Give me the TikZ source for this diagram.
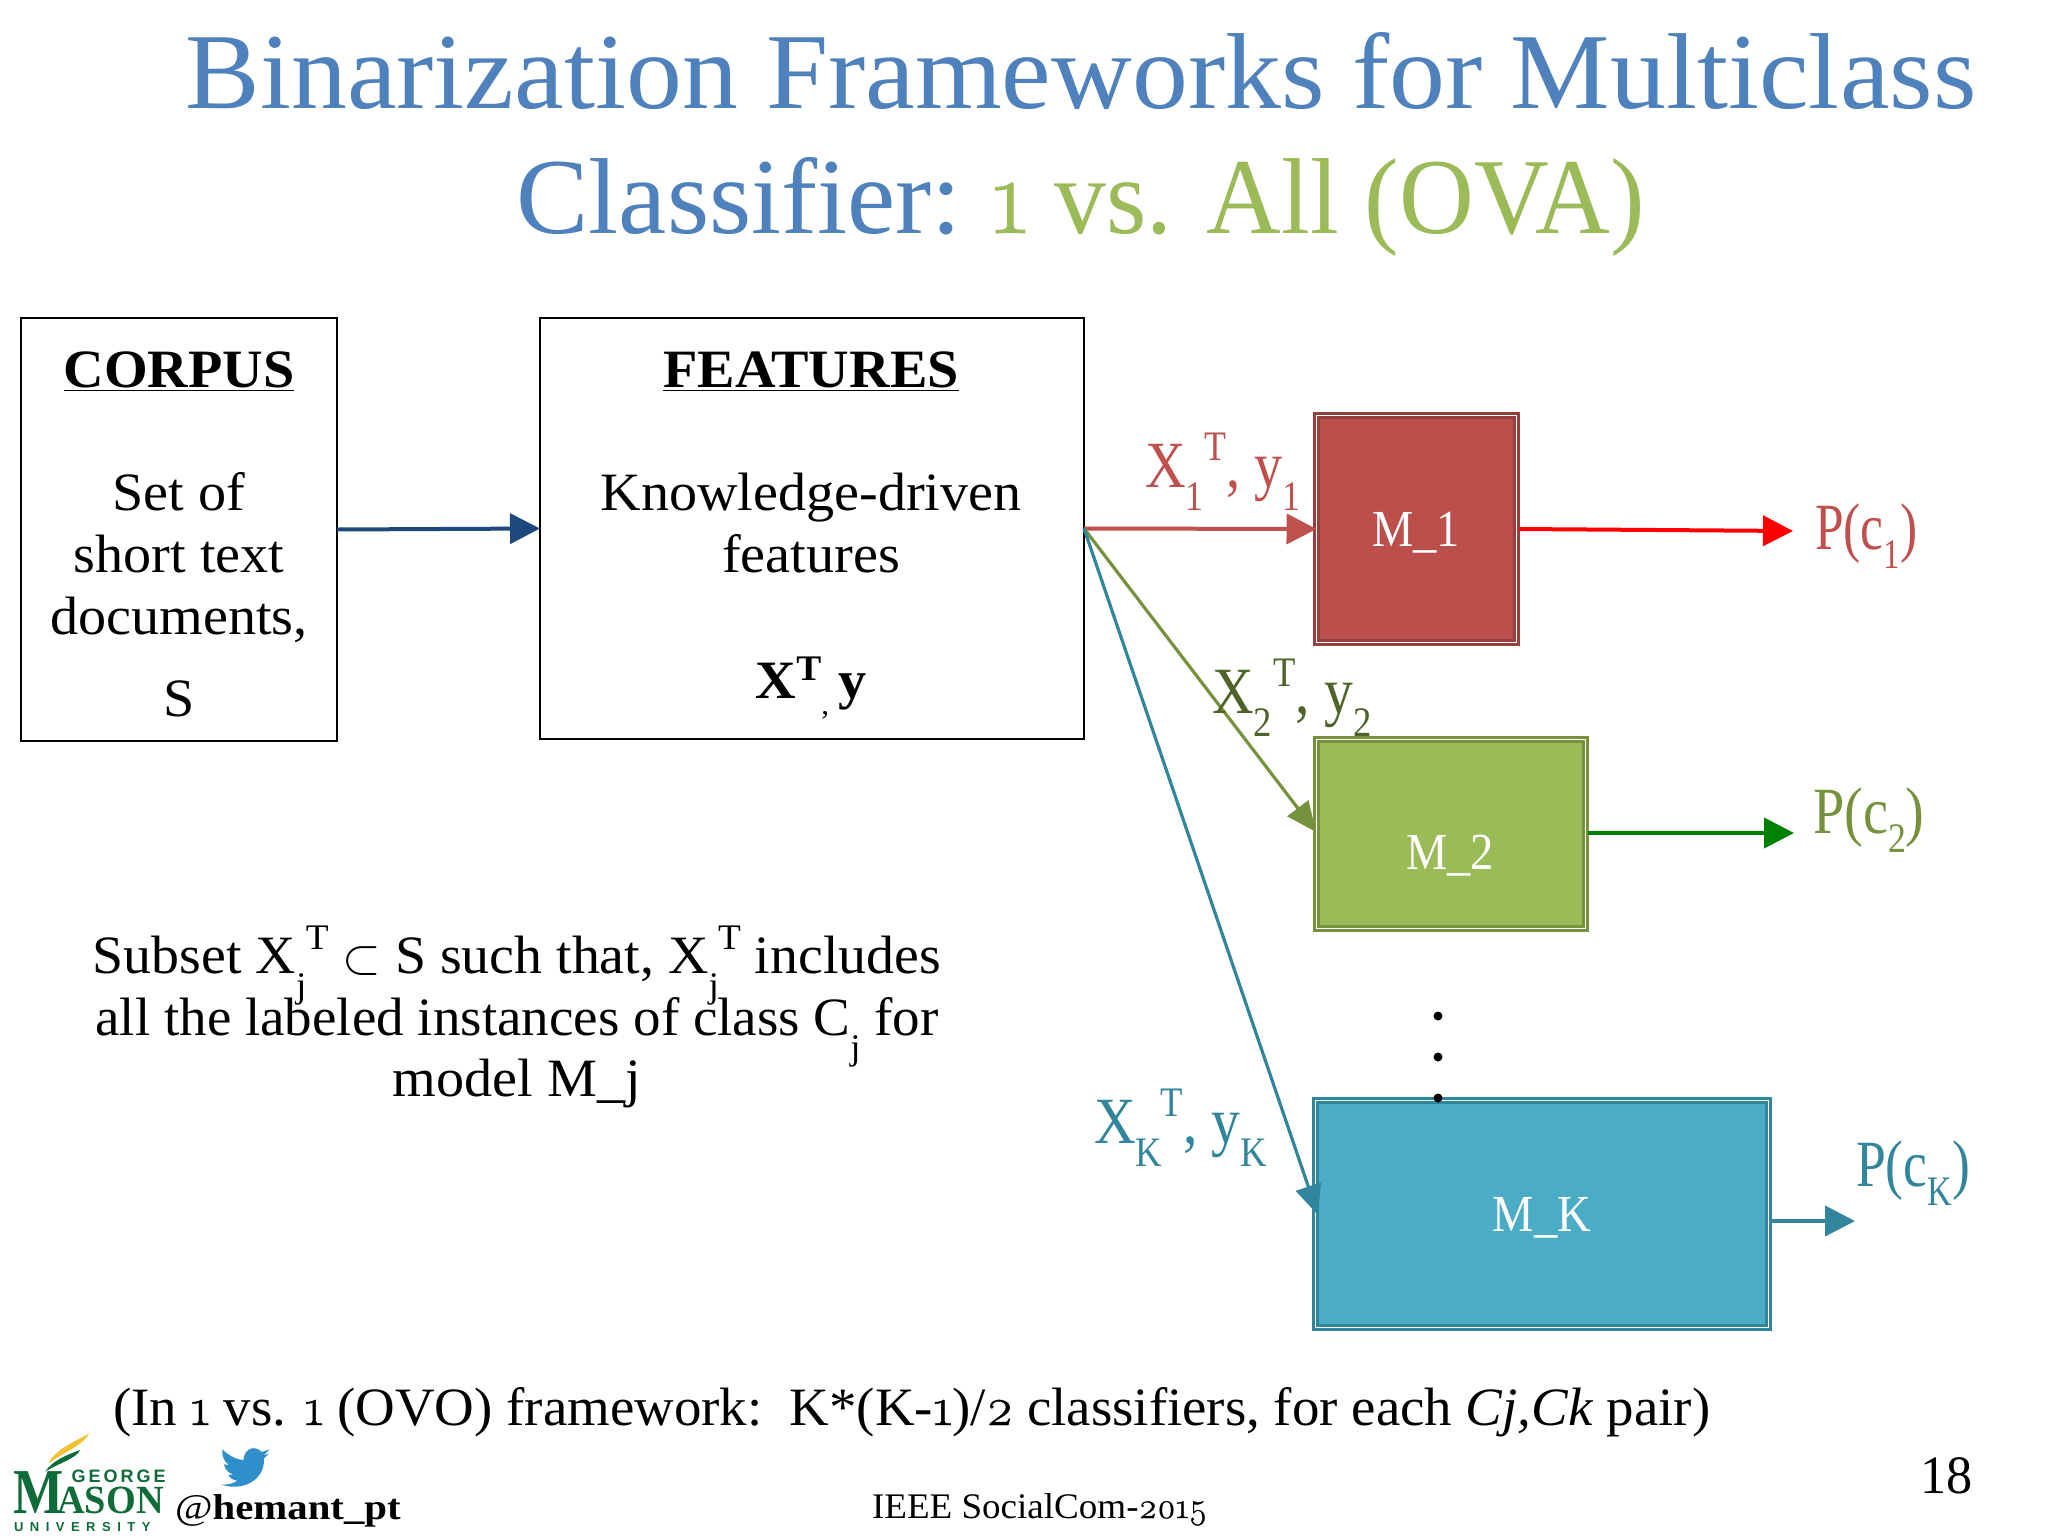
\documentclass[tikz,border=0pt]{standalone}
\usepackage{fontspec}
\setmainfont{Liberation Serif}[FakeStretch=1.04]
\newfontfamily\oldfig{Latin Modern Roman}[Numbers=OldStyle,FakeBold=0.8]
\newfontfamily\gmsans{Liberation Sans}
\usetikzlibrary{arrows.meta}
\definecolor{ttlblue}{HTML}{4F81BD}
\definecolor{ttlgreen}{HTML}{9BBB59}
\definecolor{cred}{HTML}{C0504D}
\definecolor{mred}{HTML}{BC4F4C}
\definecolor{dgreen}{HTML}{4F6228}
\definecolor{ogreen}{HTML}{76923C}
\definecolor{cteal}{HTML}{31859C}
\definecolor{mteal}{HTML}{4BACC6}
\definecolor{navyarrow}{HTML}{1F497D}
\definecolor{gmgreen}{HTML}{0F6B38}
\definecolor{gmgold}{HTML}{F2C230}
\definecolor{birdblue}{HTML}{2F8FCB}
\newcommand{\fsz}[1]{\fontsize{#1}{#1}\selectfont}
\newcommand{\hs}[2]{\scalebox{#1}[1]{#2}}
\newcommand{\subsup}[4]{\rlap{\raisebox{-.36em}{\fontsize{#1}{#1}\selectfont #2}}\hspace{#4}\raisebox{.40em}{\fontsize{#1}{#1}\selectfont #3}}
\newcommand{\subsupj}[3]{\rlap{\raisebox{-.45em}{\fontsize{#1}{#1}\selectfont #2}}\hspace{.18em}\raisebox{.44em}{\fontsize{#1}{#1}\selectfont #3}}
\tikzset{
  x=0.5pt,y=-0.5pt,
  txt/.style={anchor=base,inner sep=0pt,outer sep=0pt,align=center},
  plainbox/.style={draw=black,line width=0.8pt,fill=white,inner sep=0pt,outer sep=0pt,anchor=north west},
  model/.style={inner sep=0pt,outer sep=0pt,anchor=north west,line width=1.2pt,double distance=0.8pt,double=white,text=white},
  arr/.style={-{Triangle[length=15pt,width=15pt]},line width=2pt},
  thinarr/.style={-{Triangle[length=15pt,width=13pt]},line width=1.6pt},
  vdot/.style={circle,fill=black,inner sep=0pt,minimum size=4.5pt}
}
\begin{document}
\begin{tikzpicture}
\useasboundingbox (0,0) rectangle (2048,1536);
\fill[white] (0,0) rectangle (2048,1536);
% title
\node[txt,text=ttlblue] (t1) at (1081,109) {\fsz{54}\hs{.995}{Binarization Frameworks for Multiclass}};
\node[txt,text=ttlblue,anchor=base east] (t2a) at (962,233) {\fsz{54}\hs{.965}{Classifier:}};
\node[txt,text=ttlgreen,anchor=base west] (t2b) at (992,233) {\fsz{54}\hs{.922}{{\oldfig 1} vs. All (OVA)}};
% boxes
\node[plainbox,minimum width=158pt,minimum height=211.5pt] (corpus) at (21,318) {};
\node[plainbox,minimum width=272pt,minimum height=210.5pt] (features) at (540,318) {};
\node[txt] (c1) at (179,387) {\fsz{27}\textbf{\underline{CORPUS}}};
\node[txt] (c2) at (179,510) {\fsz{27}Set of};
\node[txt] (c3) at (179,572) {\fsz{27}short text};
\node[txt] (c4) at (179,634) {\fsz{27}documents,};
\node[txt] (c5) at (179,716) {\fsz{27}S};
\node[txt] (f1) at (811,387) {\fsz{27}\textbf{\underline{FEATURES}}};
\node[txt] (f2) at (811,510) {\fsz{27}Knowledge-driven};
\node[txt] (f3) at (811,572) {\fsz{27}features};
\node[txt] (f4) at (811,698) {\fsz{27}\textbf{X\raisebox{.32em}{\fsz{18}T}}\raisebox{-.3em}{\fsz{15},}\textbf{\,y}};
% models
\node[model,draw=mred!80!black,fill=mred,minimum width=100pt,minimum height=113.5pt] (m1) at (1316.5,415.5) {};
\node[model,draw=ogreen,fill=ttlgreen,minimum width=134.5pt,minimum height=94.5pt] (m2) at (1316.5,739.5) {};
\node[model,draw=cteal,fill=mteal,minimum width=226.5pt,minimum height=113.5pt] (mk) at (1315.5,1100.5) {};
\node[txt,text=white,anchor=center] (m1t) at (1416,533) {\fsz{26}\hs{.86}{M\_1}};
\node[txt,text=white,anchor=center] (m2t) at (1450,856) {\fsz{26}\hs{.86}{M\_2}};
\node[txt,text=white,anchor=center] (mkt) at (1542,1218) {\fsz{26}\hs{.86}{M\_K}};
% output end points
\coordinate (p1) at (1793,531);
\coordinate (p2) at (1794,833);
\coordinate (pk) at (1855,1221);
\coordinate (m2in) at (1316,832);
\coordinate (mkin) at (1318,1215);
\coordinate (m1out) at (1519,529);
\coordinate (m2out) at (1588,833);
\coordinate (mkout) at (1771,1221);
% connectors
\draw[arr,navyarrow] (corpus.east) -- (features.west);
\draw[arr,cred] (features.east) -- (m1.west);
\draw[thinarr,ogreen] (features.east) -- (m2in);
\draw[thinarr,cteal] (features.east) -- (mkin);
\draw[arr,red] (m1out) -- (p1);
\draw[arr,green!50!black] (m2out) -- (p2);
\draw[arr,cteal] (mkout) -- (pk);
% arrow labels
\node[txt,anchor=base west,text=cred] (l1) at (1145,487) {\fsz{33}\hs{.82}{X\subsup{21}{1}{T}{.35em}, y\raisebox{-.36em}{\fsz{21}1}}};
\node[txt,anchor=base west,text=dgreen] (l2) at (1212,713) {\fsz{33}\hs{.84}{X\subsup{21}{2}{T}{.35em}, y\raisebox{-.36em}{\fsz{21}2}}};
\node[txt,anchor=base west,text=cteal] (lk) at (1094,1143) {\fsz{33}\hs{.84}{X\subsup{21}{K}{T}{.45em}, y\raisebox{-.36em}{\fsz{21}K}}};
\node[txt,anchor=base west,text=cred] (o1) at (1815,549) {\fsz{33}\hs{.75}{P(c\raisebox{-.3em}{\fsz{21}1})}};
\node[txt,anchor=base west,text=ogreen] (o2) at (1813,833) {\fsz{33}\hs{.82}{P(c\raisebox{-.3em}{\fsz{21}2})}};
\node[txt,anchor=base west,text=cteal] (ok) at (1856,1186) {\fsz{33}\hs{.78}{P(c\raisebox{-.3em}{\fsz{21}K})}};
% dots
\node[vdot] (d1) at (1438,1016) {};
\node[vdot] (d2) at (1438,1057) {};
\node[vdot] (d3) at (1438,1098) {};
% description
\node[txt] (s1) at (517,973) {\fsz{27}\hs{.995}{Subset X\subsupj{18}{j}{T} $\subset$ S such that, X\subsupj{18}{j}{T} includes}};
\node[txt] (s2) at (517,1035) {\fsz{27}\hs{.98}{all the labeled instances of class C\raisebox{-.45em}{\fsz{18}j} for}};
\node[txt] (s3) at (517,1096) {\fsz{27}model M\_j};
\node[txt,anchor=base west] (ovo) at (113,1425) {\fsz{27}\hs{.977}{(In {\oldfig 1} vs. {\oldfig 1} (OVO) framework:\ \ K*(K-{\oldfig 1})/{\oldfig 2} classifiers, for each \textit{Cj,Ck} pair)}};
\node[txt,anchor=base west] (hand) at (175,1519) {\fsz{18}\hs{1.09}{@\textbf{hemant\_pt}}};
\node[txt,anchor=base west] (conf) at (872,1518) {\fsz{18}\hs{.99}{IEEE SocialCom-{\oldfig 2015}}};
\node[txt,anchor=base west] (pg) at (1920,1493) {\fsz{27}\hs{.93}{18}};
% logo
\begin{scope}[shift={(0,1380)},x=0.16667pt,y=-0.16667pt]
\fill[gmgold] (145,250) .. controls (170,205) and (225,185) .. (268,160) .. controls (250,195) and (195,215) .. (145,250) -- cycle;
\fill[gmgreen] (135,275) .. controls (160,240) and (200,225) .. (240,210) .. controls (230,235) and (175,250) .. (135,275) -- cycle;
\node[txt,anchor=base west,text=gmgreen] (gm1) at (40,400) {\fsz{32}\hs{.8}{\textbf{M}}};
\node[txt,anchor=base west,text=gmgreen] (gm2) at (172,400) {\fsz{20}\hs{.92}{\textbf{ASON}}};
\node[txt,anchor=base west,text=gmgreen] (gm3) at (215,308) {\gmsans\fontsize{9}{9}\selectfont\textbf{G\,E\,O\,R\,G\,E}};
\node[txt,anchor=base west,text=gmgreen] (gm4) at (42,453) {\gmsans\fontsize{6.5}{6.5}\selectfont\textbf{U\hspace{.5em}N\hspace{.5em}I\hspace{.5em}V\hspace{.5em}E\hspace{.5em}R\hspace{.5em}S\hspace{.5em}I\hspace{.5em}T\hspace{.5em}Y}};
\fill[birdblue] (808,208) -- (785,216) .. controls (770,198) and (735,198) .. (730,240) .. controls (705,238) and (685,225) .. (667,208) .. controls (665,228) and (672,245) .. (687,255) -- (672,253) .. controls (675,268) and (685,280) .. (700,283) -- (685,285) .. controls (690,295) and (700,300) .. (712,302) .. controls (700,310) and (685,315) .. (664,314) .. controls (730,335) and (795,300) .. (792,235) -- (806,222) -- (792,225) -- cycle;
\end{scope}
\end{tikzpicture}
\end{document}
